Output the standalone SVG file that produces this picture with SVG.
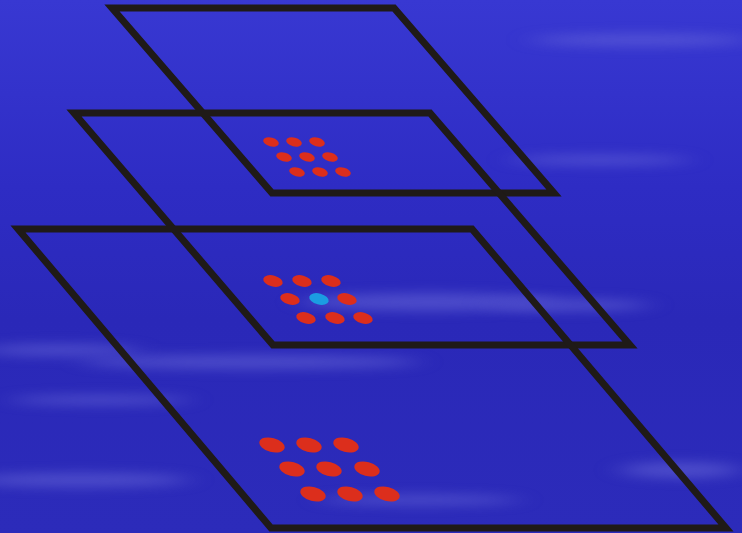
<svg xmlns="http://www.w3.org/2000/svg" width="742" height="533" viewBox="0 0 742 533">
<defs>
<linearGradient id="bg" x1="0" y1="0" x2="0" y2="1">
<stop offset="0" stop-color="#3838d2"/>
<stop offset="0.35" stop-color="#2e2cc4"/>
<stop offset="0.6" stop-color="#2a28b8"/>
<stop offset="1" stop-color="#2c2bba"/>
</linearGradient>
<filter id="blur" x="-50%" y="-300%" width="200%" height="700%">
<feGaussianBlur stdDeviation="14 6"/>
</filter>
<style>
.plane{fill:none;stroke:#1f1a18;stroke-width:7;stroke-linejoin:miter}
.r{fill:#dc2e1c}
.c{fill:#1b9ce2}
.cloud{fill:#7070dc;filter:url(#blur)}
</style>
</defs>
<rect width="742" height="533" fill="url(#bg)"/>
<g opacity="0.5">
<ellipse class="cloud" cx="430" cy="302" rx="130" ry="9"/>
<ellipse class="cloud" cx="250" cy="362" rx="170" ry="7"/>
<ellipse class="cloud" cx="60" cy="350" rx="80" ry="6"/>
<ellipse class="cloud" cx="80" cy="480" rx="110" ry="7"/>
<ellipse class="cloud" cx="570" cy="305" rx="80" ry="6"/>
<ellipse class="cloud" cx="680" cy="470" rx="60" ry="8"/>
<ellipse class="cloud" cx="640" cy="40" rx="110" ry="6"/>
<ellipse class="cloud" cx="600" cy="160" rx="90" ry="5"/>
<ellipse class="cloud" cx="100" cy="400" rx="90" ry="5"/>
<ellipse class="cloud" cx="420" cy="500" rx="100" ry="5"/>
</g>
<g id="plane-top">
<polygon class="plane" points="112,8 394,8 554,193 272,193"/>
<g id="dots-top">
<ellipse class="r" cx="271" cy="142" rx="8" ry="4.5" transform="rotate(15 271 142)"/>
<ellipse class="r" cx="294" cy="142" rx="8" ry="4.5" transform="rotate(15 294 142)"/>
<ellipse class="r" cx="317" cy="142" rx="8" ry="4.5" transform="rotate(15 317 142)"/>
<ellipse class="r" cx="284" cy="157" rx="8" ry="4.5" transform="rotate(15 284 157)"/>
<ellipse class="r" cx="307" cy="157" rx="8" ry="4.5" transform="rotate(15 307 157)"/>
<ellipse class="r" cx="330" cy="157" rx="8" ry="4.5" transform="rotate(15 330 157)"/>
<ellipse class="r" cx="297" cy="172" rx="8" ry="4.5" transform="rotate(15 297 172)"/>
<ellipse class="r" cx="320" cy="172" rx="8" ry="4.5" transform="rotate(15 320 172)"/>
<ellipse class="r" cx="343" cy="172" rx="8" ry="4.5" transform="rotate(15 343 172)"/>
</g>
</g>
<g id="plane-middle">
<polygon class="plane" points="74,113 430,113 630,345 273,345"/>
<g id="dots-middle">
<ellipse class="r" cx="273" cy="281" rx="10" ry="5.5" transform="rotate(15 273 281)"/>
<ellipse class="r" cx="302" cy="281" rx="10" ry="5.5" transform="rotate(15 302 281)"/>
<ellipse class="r" cx="331" cy="281" rx="10" ry="5.5" transform="rotate(15 331 281)"/>
<ellipse class="r" cx="290" cy="299" rx="10" ry="5.5" transform="rotate(15 290 299)"/>
<ellipse class="c" cx="319" cy="299" rx="10" ry="5.5" transform="rotate(15 319 299)"/>
<ellipse class="r" cx="347" cy="299" rx="10" ry="5.5" transform="rotate(15 347 299)"/>
<ellipse class="r" cx="306" cy="318" rx="10" ry="5.5" transform="rotate(15 306 318)"/>
<ellipse class="r" cx="335" cy="318" rx="10" ry="5.5" transform="rotate(15 335 318)"/>
<ellipse class="r" cx="363" cy="318" rx="10" ry="5.5" transform="rotate(15 363 318)"/>
</g>
</g>
<g id="plane-bottom">
<polygon class="plane" points="18,229 472,229 726,528 271,528"/>
<g id="dots-bottom">
<ellipse class="r" cx="272" cy="445" rx="13" ry="7" transform="rotate(15 272 445)"/>
<ellipse class="r" cx="309" cy="445" rx="13" ry="7" transform="rotate(15 309 445)"/>
<ellipse class="r" cx="346" cy="445" rx="13" ry="7" transform="rotate(15 346 445)"/>
<ellipse class="r" cx="292" cy="469" rx="13" ry="7" transform="rotate(15 292 469)"/>
<ellipse class="r" cx="329" cy="469" rx="13" ry="7" transform="rotate(15 329 469)"/>
<ellipse class="r" cx="367" cy="469" rx="13" ry="7" transform="rotate(15 367 469)"/>
<ellipse class="r" cx="313" cy="494" rx="13" ry="7" transform="rotate(15 313 494)"/>
<ellipse class="r" cx="350" cy="494" rx="13" ry="7" transform="rotate(15 350 494)"/>
<ellipse class="r" cx="387" cy="494" rx="13" ry="7" transform="rotate(15 387 494)"/>
</g>
</g>
</svg>
